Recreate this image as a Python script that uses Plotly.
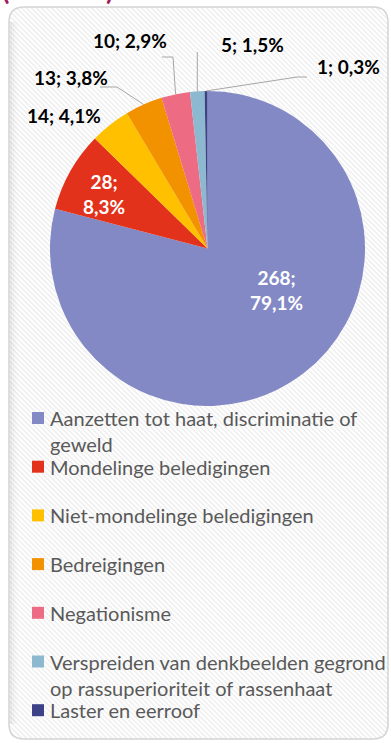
import textwrap

import numpy as np
import plotly.graph_objects as go

# ---- data -------------------------------------------------------------
categories = [
    "Aanzetten tot haat, discriminatie of geweld",
    "Mondelinge beledigingen",
    "Niet-mondelinge beledigingen",
    "Bedreigingen",
    "Negationisme",
    "Verspreiden van denkbeelden gegrond op rassuperioriteit of rassenhaat",
    "Laster en eerroof",
]
counts = [268, 28, 14, 13, 10, 5, 1]
colors = ["#8389C4", "#E3321B", "#FFC000", "#F39200", "#EE6B84", "#8CB9CF", "#3C4188"]
title_text = "(N = 339)"

# ---- geometry (pixel space of a 391 x 743 page) ------------------------
W, H = 391, 743
PIE_CX, PIE_CY, PIE_R = 207.5, 248.5, 157.5
BOX = (9, 7, 388, 739)   # x0, y0, x1, y1 of the rounded frame
BOX_R = 15
FONT = "Lato"

total = sum(counts)
pcts = [c / total * 100 for c in counts]


def fmt(c, p):
    return f"{c}; {p:.1f}%".replace(".", ",")


# slice mid-angles, clockwise from 12 o'clock
cum = np.cumsum([0] + counts[:-1])
mid_deg = [360 * (b + c / 2) / total for b, c in zip(cum, counts)]


def rim(i):
    t = np.radians(mid_deg[i])
    return PIE_CX + PIE_R * np.sin(t), PIE_CY - PIE_R * np.cos(t)


# label centres and leader-line elbows
label_pos = {
    0: (276, 290),
    1: (104, 193.5),
    2: (63.5, 115.5),
    3: (70.5, 77.5),
    4: (130, 40.5),
    5: (252, 44),
    6: (348.5, 66),
}
inside = {0, 1}
leader_via = {
    3: [(117, 87), (100, 87)],
    4: [(173, 57), (162, 57)],
    5: [(None, 52)],
    6: [(297, 77), (307, 77)],
}

fig = go.Figure()

# faint diagonal hatching of the frame background
x0, y0, x1, y1 = BOX
sx, sy = [], []
for c in np.arange(-(x1 - y0), y1 - x0, 5.0):
    xa = max(x0, y0 - c)
    xb = min(x1, y1 - c)
    if xb > xa:
        sx += [xa, xb, None]
        sy += [xa + c, xb + c, None]
fig.add_trace(go.Scatter(x=sx, y=sy, mode="lines",
                         line=dict(color="rgba(255,255,255,0.95)", width=2),
                         hoverinfo="skip", showlegend=False))

fig.add_trace(go.Pie(
    labels=categories,
    values=counts,
    marker=dict(colors=colors, line=dict(width=0)),
    sort=False,
    direction="clockwise",
    rotation=0,
    textinfo="none",
    hoverinfo="label+value+percent",
    showlegend=False,
    domain=dict(x=[(PIE_CX - PIE_R) / W, (PIE_CX + PIE_R) / W],
                y=[1 - (PIE_CY + PIE_R) / H, 1 - (PIE_CY - PIE_R) / H]),
))

shapes = []


def rounded_path(x0, y0, x1, y1, r):
    return (f"M {x0 + r},{y0} H {x1 - r} Q {x1},{y0} {x1},{y0 + r} "
            f"V {y1 - r} Q {x1},{y1} {x1 - r},{y1} H {x0 + r} "
            f"Q {x0},{y1} {x0},{y1 - r} V {y0 + r} Q {x0},{y0} {x0 + r},{y0} Z")


# frame fill (below the hatching)
shapes.append(dict(type="path", path=rounded_path(*BOX, BOX_R), xref="x", yref="y",
                   fillcolor="#EFEFEF", line=dict(width=0), layer="below"))
# soft inner shade along the left edge
for i, a in enumerate([0.07, 0.045, 0.025, 0.012]):
    shapes.append(dict(type="rect", xref="x", yref="y", x0=x0 + 1 + 2 * i, x1=x0 + 3 + 2 * i,
                       y0=y0 + BOX_R, y1=y1 - BOX_R, fillcolor=f"rgba(0,0,0,{a})",
                       line=dict(width=0), layer="above"))
# white corner masks so the hatching follows the rounded frame
r = BOX_R
for (cx, cy, dx, dy) in [(x0, y0, 1, 1), (x1, y0, -1, 1), (x1, y1, -1, -1), (x0, y1, 1, -1)]:
    shapes.append(dict(type="path", xref="x", yref="y", layer="above",
                       path=f"M {cx},{cy} L {cx + dx * r},{cy} Q {cx},{cy} {cx},{cy + dy * r} Z",
                       fillcolor="white", line=dict(width=0)))
# frame border
shapes.append(dict(type="path", path=rounded_path(*BOX, BOX_R), xref="x", yref="y",
                   fillcolor="rgba(0,0,0,0)", line=dict(color="#D4D4D4", width=1.5),
                   layer="above"))

# leader lines from slice rims to their labels
for i, via in leader_via.items():
    px, py = rim(i)
    pts = [(px, py)] + [(px if vx is None else vx, vy) for vx, vy in via]
    path = "M " + " L ".join(f"{x:.1f},{y:.1f}" for x, y in pts)
    shapes.append(dict(type="path", path=path, xref="x", yref="y",
                       line=dict(color="#A6A6A6", width=1), layer="above"))

annotations = []
# data labels
for i, (c, p) in enumerate(zip(counts, pcts)):
    lx, ly = label_pos[i]
    txt = fmt(c, p)
    if i in inside:
        txt = txt.replace("; ", ";<br>")
    annotations.append(dict(
        x=lx, y=ly, xref="x", yref="y", text=txt, showarrow=False,
        xanchor="center", yanchor="middle", align="center",
        font=dict(family=FONT, size=19, weight="bold",
                  color="white" if i in inside else "black")))

# legend: squares + wrapped category names
LEG_Y0, LEG_STEP, LEG_FS = 418, 48.7, 20
for i, (name, col) in enumerate(zip(categories, colors)):
    yc = LEG_Y0 + i * LEG_STEP
    shapes.append(dict(type="rect", xref="x", yref="y", x0=32, x1=44,
                       y0=yc - 6, y1=yc + 6, fillcolor=col, line=dict(width=0),
                       layer="above"))
    annotations.append(dict(
        x=47.5, y=yc - (1.3 * LEG_FS) / 2 - 1, xref="x", yref="y",
        text="<br>".join(textwrap.wrap(name, 36)), showarrow=False,
        xanchor="left", yanchor="top", align="left",
        font=dict(family=FONT, size=LEG_FS, color="#595959")))

# heading, running off the top of the page
annotations.append(dict(x=0, y=8, xref="x", yref="y", text=title_text, showarrow=False,
                        xanchor="left", yanchor="bottom",
                        font=dict(family=FONT, size=27, weight="bold", color="#A0185F")))

fig.update_layout(
    width=W, height=H, autosize=False,
    margin=dict(l=0, r=0, t=0, b=0, pad=0),
    paper_bgcolor="white", plot_bgcolor="rgba(0,0,0,0)",
    xaxis=dict(range=[0, W], visible=False, fixedrange=True, domain=[0, 1]),
    yaxis=dict(range=[H, 0], visible=False, fixedrange=True, domain=[0, 1]),
    shapes=shapes, annotations=annotations, showlegend=False,
)

fig.write_html("out.html")
